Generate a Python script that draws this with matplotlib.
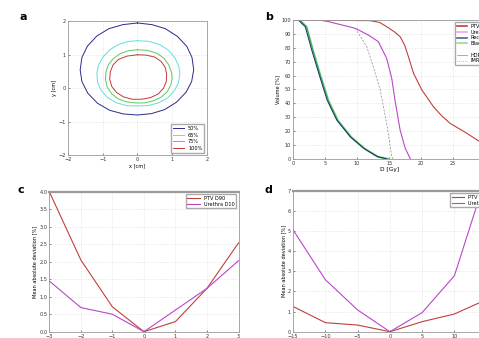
import matplotlib
matplotlib.use("Agg")
import matplotlib.pyplot as plt
from matplotlib.lines import Line2D

# ---- data ----
# (a) isodose contours, points in cm
iso_labels = ["50%", "65%", "75%", "100%"]
iso_colors = ["#2a2a8c", "#5fe0d8", "#5cc95c", "#c03a3a"]
iso50_x = [0, 0.42, 0.8, 1.15, 1.42, 1.57, 1.62, 1.56, 1.4, 1.12, 0.78, 0.4, 0,
           -0.4, -0.8, -1.15, -1.43, -1.6, -1.65, -1.6, -1.44, -1.17, -0.82, -0.42]
iso50_y = [1.95, 1.9, 1.78, 1.55, 1.25, 0.92, 0.55, 0.2, -0.12, -0.42, -0.64, -0.76, -0.8,
           -0.77, -0.66, -0.45, -0.15, 0.2, 0.55, 0.92, 1.26, 1.56, 1.78, 1.9]
iso65_x = [0, 0.33, 0.65, 0.9, 1.08, 1.19, 1.22, 1.18, 1.06, 0.86, 0.6, 0.3, 0,
           -0.3, -0.6, -0.86, -1.05, -1.15, -1.17, -1.12, -0.98, -0.78, -0.52, -0.25]
iso65_y = [1.42, 1.4, 1.3, 1.13, 0.9, 0.65, 0.42, 0.16, -0.08, -0.3, -0.44, -0.52, -0.53,
           -0.52, -0.44, -0.28, -0.06, 0.18, 0.45, 0.7, 0.95, 1.16, 1.32, 1.4]
iso75_x = [0, 0.28, 0.55, 0.76, 0.9, 0.98, 1.0, 0.96, 0.86, 0.68, 0.45, 0.2, -0.05,
           -0.3, -0.55, -0.74, -0.87, -0.92, -0.91, -0.84, -0.7, -0.5, -0.27]
iso75_y = [1.15, 1.13, 1.05, 0.9, 0.7, 0.48, 0.3, 0.1, -0.1, -0.27, -0.38, -0.44, -0.44,
           -0.41, -0.32, -0.17, 0.03, 0.25, 0.48, 0.7, 0.88, 1.03, 1.12]
iso100_x = [0, 0.25, 0.5, 0.68, 0.8, 0.84, 0.83, 0.75, 0.6, 0.38, 0.12,
            -0.15, -0.4, -0.6, -0.74, -0.8, -0.78, -0.7, -0.55, -0.3]
iso100_y = [1.0, 0.99, 0.93, 0.8, 0.62, 0.42, 0.2, 0.0, -0.17, -0.28, -0.33,
            -0.33, -0.26, -0.13, 0.05, 0.27, 0.5, 0.7, 0.86, 0.96]

# (b) DVH curves, dose [Gy] vs volume [%]
ptv_d = [0, 12.0, 13.5, 14.6, 15.8, 16.7, 17.4, 18.0, 18.8, 20.1, 21.9, 23.2, 24.5, 27.1, 29.1, 31]
ptv_v = [100, 99.5, 98.2, 95.2, 91.5, 88, 82, 73.6, 61.6, 49.6, 37.6, 31, 25.6, 18.5, 12.5, 9]
ure_d = [0, 4.0, 5.5, 9.7, 11.8, 13.3, 14.6, 15.4, 15.9, 16.7, 17.5, 18.3]
ure_v = [100, 100, 98.8, 94, 89, 84.4, 72.4, 58, 42.4, 20.9, 7.7, 0]
ure2_d = [9.7, 11.5, 12.5, 13.6, 14.6, 15.4, 15.6]
ure2_v = [94, 80.8, 66.4, 49.6, 25.6, 1.7, 0]
rec_d = [0, 0.8, 1.9, 2.9, 4.0, 5.3, 6.8, 8.9, 11.0, 13.1, 14.6]
rec_v = [100, 100, 95, 78.4, 61.6, 42.4, 28, 16, 7.7, 1.7, 0]
bla_d = [0, 1.0, 2.1, 3.1, 4.2, 5.5, 7.0, 9.1, 11.2, 13.3, 14.8]
bla_v = [100, 100, 95, 78, 61, 42, 27.5, 15.5, 7.2, 1.4, 0]

# (c) shift in x [cm]
c_shift = [-3, -2, -1, 0, 1, 2, 3]
c_ptv = [4.0, 2.05, 0.71, 0.0, 0.29, 1.24, 2.54]
c_ure = [1.45, 0.69, 0.5, 0.0, 0.62, 1.24, 2.03]

# (d) shift
d_shift = [-15, -10, -5, 0, 5, 10, 15]
d_ptv = [1.25, 0.45, 0.33, 0.0, 0.5, 0.88, 1.6]
d_ure = [5.05, 2.58, 1.08, 0.0, 0.95, 2.78, 7.8]

RED = "#c0403c"
MAG = "#b848c8"
FS = 3.6


def style(ax):
    ax.grid(True, color="#d8d8d8", linestyle=":", linewidth=0.5)
    ax.tick_params(direction="in", labelsize=FS, length=1.5, width=0.4, pad=1.5, colors="#333333")
    for s in ax.spines.values():
        s.set_color("#9a9a9a")
        s.set_linewidth(0.6)


fig = plt.figure(figsize=(4.79, 3.38), dpi=100)

# ----- a -----
ax = fig.add_axes([0.142, 0.541, 0.290, 0.396])
contours = [(iso50_x, iso50_y), (iso65_x, iso65_y), (iso75_x, iso75_y), (iso100_x, iso100_y)]
for (xs, ys), c, lab in zip(contours, iso_colors, iso_labels):
    ax.plot(xs + xs[:1], ys + ys[:1], color=c, lw=0.7, label=lab)
ax.set_xlim(-2, 2)
ax.set_ylim(-2, 2)
ax.set_xticks([-2, -1, 0, 1, 2])
ax.set_yticks([-2, -1, 0, 1, 2])
ax.set_xlabel("x [cm]", fontsize=FS, labelpad=1)
ax.set_ylabel("y [cm]", fontsize=FS, labelpad=1)
style(ax)
ax.legend(loc="lower right", fontsize=FS, handlelength=2.2, borderpad=0.4,
          labelspacing=0.3, framealpha=1, edgecolor="#aaaaaa", fancybox=False)

# ----- b -----
ax = fig.add_axes([0.612, 0.530, 0.401, 0.411])
ax.plot(ptv_d, ptv_v, color=RED, lw=0.8)
ax.plot(bla_d, bla_v, color="#88e088", lw=1.6)
ax.plot(bla_d, bla_v, color="#2ca05a", lw=0.6)
ax.plot(rec_d, rec_v, color="#1d2a6e", lw=0.7)
ax.plot(ure_d, ure_v, color=MAG, lw=0.8)
ax.plot(ure2_d, ure2_v, color="#888888", lw=0.5, ls=(0, (3, 2)))
ax.set_xlim(0, 30)
ax.set_ylim(0, 100)
ax.set_xticks(range(0, 26, 5))
ax.set_yticks(range(0, 101, 10))
ax.set_xlabel("D [Gy]", fontsize=FS + 0.6, labelpad=0.5)
ax.set_ylabel("Volume [%]", fontsize=FS, labelpad=1)
style(ax)
handles = [Line2D([], [], color=RED, lw=1.2), Line2D([], [], color="#f0a0f0", lw=1.2),
           Line2D([], [], color="#5a5aa8", lw=1.2), Line2D([], [], color="#90e090", lw=1.2),
           Line2D([], [], color="none"), Line2D([], [], color="#888888", lw=0.5),
           Line2D([], [], color="#888888", lw=0.5, ls=":")]
labels = ["PTV", "Urethra", "Rectum", "Bladder", "", "HDR-TPS", "IMRT"]
ax.legend(handles, labels, loc="upper left", bbox_to_anchor=(0.83, 1.0), fontsize=FS,
          handlelength=2.0, borderpad=0.3, labelspacing=0.15, framealpha=1,
          edgecolor="#aaaaaa", fancybox=False)

# ----- c -----
ax = fig.add_axes([0.103, 0.0186, 0.395, 0.414])
ax.plot(c_shift, c_ptv, color=RED, lw=0.8, label="PTV D90")
ax.plot(c_shift, c_ure, color=MAG, lw=0.8, label="Urethra D10")
ax.set_xlim(-3, 3)
ax.set_ylim(0, 4)
ax.set_xticks(c_shift)
ax.set_yticks([0, 0.5, 1, 1.5, 2, 2.5, 3, 3.5, 4])
ax.set_ylabel("Mean absolute deviation [%]", fontsize=FS, labelpad=1)
style(ax)
ax.spines["top"].set_linewidth(1.6)
ax.legend(loc="upper right", fontsize=FS, handlelength=2.5, borderpad=0.3,
          labelspacing=0.2, framealpha=1, edgecolor="#aaaaaa", fancybox=False)

# ----- d -----
ax = fig.add_axes([0.612, 0.0186, 0.404, 0.417])
ax.plot(d_shift, d_ptv, color=RED, lw=0.8, label="PTV D90")
ax.plot(d_shift, d_ure, color=MAG, lw=0.8, label="Urethra D10")
ax.set_xlim(-15, 15)
ax.set_ylim(0, 7)
ax.set_xticks(d_shift[:-1])
ax.set_yticks(range(0, 8))
ax.set_ylabel("Mean absolute deviation [%]", fontsize=FS, labelpad=1)
style(ax)
ax.spines["top"].set_linewidth(1.6)
ax.legend(loc="upper left", bbox_to_anchor=(0.8, 1.0), fontsize=FS, handlelength=2.5,
          borderpad=0.3, labelspacing=0.2, framealpha=1, edgecolor="#aaaaaa", fancybox=False)

# panel letters
for lx, ly, t in [(0.040, 0.95, "a"), (0.553, 0.95, "b"), (0.036, 0.437, "c"), (0.553, 0.437, "d")]:
    fig.text(lx, ly, t, fontsize=8, fontweight="bold", va="center", ha="left")

fig.savefig("out.png", dpi=100)
plt.close(fig)
